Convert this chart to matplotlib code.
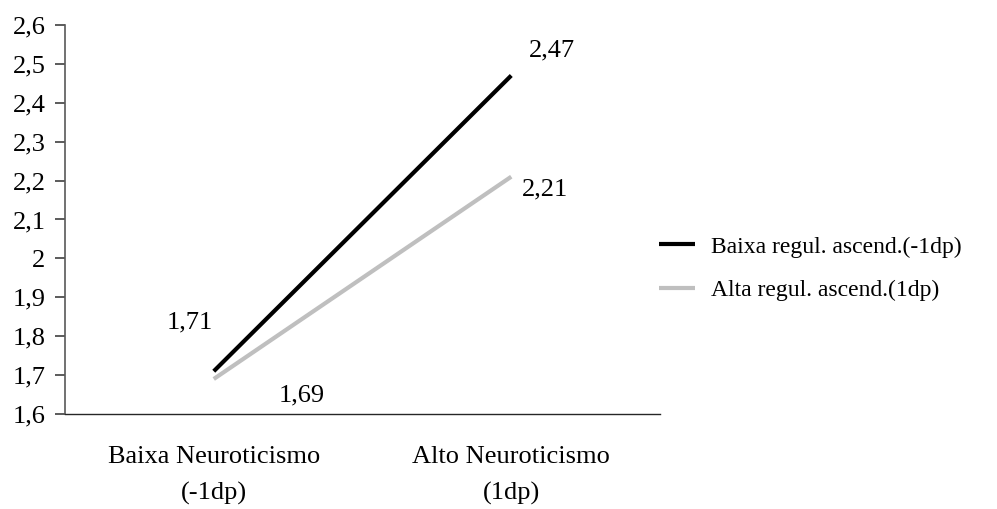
import matplotlib
matplotlib.use("Agg")
import matplotlib.pyplot as plt

categories = ["Baixa Neuroticismo\n(-1dp)", "Alto Neuroticismo\n(1dp)"]
series_names = ["Baixa regul. ascend.(-1dp)", "Alta regul. ascend.(1dp)"]
baixa_values = [1.71, 2.47]
alta_values = [1.69, 2.21]
yticks = [1.6, 1.7, 1.8, 1.9, 2.0, 2.1, 2.2, 2.3, 2.4, 2.5, 2.6]
ytick_labels = ["1,6", "1,7", "1,8", "1,9", "2", "2,1", "2,2", "2,3", "2,4", "2,5", "2,6"]

plt.rcParams['font.family'] = ['Liberation Serif', 'DejaVu Serif']
fs = 19

fig = plt.figure(figsize=(9.97, 5.09), dpi=100)
ax = fig.add_axes([0.0652, 0.1866, 0.5968, 0.7644])

xpos = [0.5, 1.5]
l1, = ax.plot(xpos, baixa_values, color="black", lw=3, solid_capstyle="butt", label=series_names[0])
l2, = ax.plot(xpos, alta_values, color="#bfbfbf", lw=3, solid_capstyle="butt", label=series_names[1])

def fmt(v):
    return f"{v:.2f}".replace(".", ",")

offsets_b = [(-17, 35), (29, 18)]
offsets_a = [(63, -12), (24, -9)]
for x, v, off in zip(xpos, baixa_values, offsets_b):
    ax.annotate(fmt(v), (x, v), xytext=off, textcoords="offset points",
                ha="center", va="center", fontsize=fs)
for x, v, off in zip(xpos, alta_values, offsets_a):
    ax.annotate(fmt(v), (x, v), xytext=off, textcoords="offset points",
                ha="center", va="center", fontsize=fs)

ax.set_xlim(0, 2)
ax.set_ylim(1.6, 2.6)
ax.set_yticks(yticks)
ax.set_yticklabels(ytick_labels, fontsize=fs)
ax.set_xticks(xpos)
ax.set_xticklabels(categories, fontsize=fs, linespacing=1.78)
ax.tick_params(axis="x", length=0, pad=23)
ax.tick_params(axis="y", length=7, width=1.2, color="#404040", pad=7)
for s in ["top", "right"]:
    ax.spines[s].set_visible(False)
ax.spines["left"].set_color("#595959")
ax.spines["left"].set_linewidth(1.2)
ax.spines["bottom"].set_color("#262626")
ax.spines["bottom"].set_linewidth(1.0)

fig.legend(handles=[l1, l2], loc="center left", bbox_to_anchor=(0.640, 0.472),
           frameon=False, fontsize=17, handlelength=1.5, labelspacing=0.95, handletextpad=0.7)

fig.savefig("out.png", dpi=100)
